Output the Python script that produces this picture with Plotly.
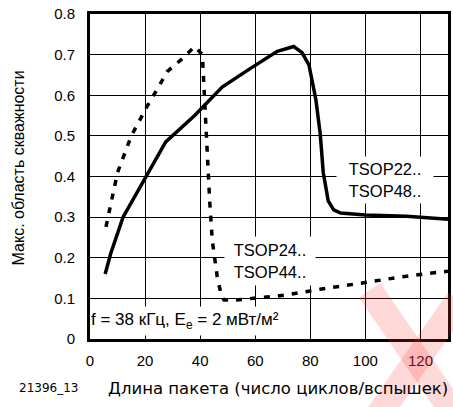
import plotly.graph_objects as go

# Pulse length (cycles/bursts) vs. maximum envelope duty cycle
solid_x = [5.5, 7.5, 12, 20.5, 27.5, 38, 48, 58, 68, 74, 77, 79.5, 82, 83.6, 84.7, 86.5, 88.5, 91, 100, 115, 130]
solid_y = [0.16, 0.21, 0.30, 0.40, 0.485, 0.55, 0.62, 0.665, 0.708, 0.72, 0.705, 0.675, 0.59, 0.505, 0.41, 0.34, 0.318, 0.31, 0.305, 0.302, 0.295]

dash_x = [5.8, 8.7, 10, 15, 18, 21, 24.6, 28, 33, 38, 40.8, 41.4, 42.2, 43, 43.5, 44.4, 46.2, 47.8, 48.7, 53, 59.5, 71, 84, 94.8, 101, 113, 126, 130]
dash_y = [0.276, 0.367, 0.41, 0.50, 0.54, 0.576, 0.617, 0.658, 0.687, 0.72, 0.70, 0.613, 0.52, 0.38, 0.335, 0.243, 0.153, 0.104, 0.096, 0.096, 0.101, 0.108, 0.123, 0.133, 0.14, 0.153, 0.163, 0.167]

x_ticks = [0, 20, 40, 60, 80, 100, 120]
y_ticks = [0, 0.1, 0.2, 0.3, 0.4, 0.5, 0.6, 0.7, 0.8]

FONT = "Liberation Sans, Arial, sans-serif"
WIDE = "DejaVu Sans, sans-serif"

fig = go.Figure()
fig.add_trace(go.Scatter(x=solid_x, y=solid_y, mode="lines",
                         line=dict(color="black", width=3.5), showlegend=False))
fig.add_trace(go.Scatter(x=dash_x, y=dash_y, mode="lines",
                         line=dict(color="black", width=3.5, dash="6px,8px"), showlegend=False))

axis_common = dict(showline=True, mirror=True, linewidth=3, linecolor="black",
                   showgrid=True, gridcolor="black", gridwidth=1, zeroline=False,
                   ticks="outside", tickcolor="rgba(0,0,0,0)",
                   tickfont=dict(family=FONT, size=15, color="black"))

fig.update_xaxes(range=[0, 130], tickvals=x_ticks, ticklen=6, **axis_common)
fig.update_yaxes(range=[0, 0.8], tickvals=y_ticks, ticklen=9, **axis_common)

annotations = [
    dict(x=107, y=0.392, xref="x", yref="y", text="TSOP22..<br>TSOP48..",
         showarrow=False, bgcolor="white", width=96, height=46, borderpad=0,
         font=dict(family=FONT, size=16.5, color="black")),
    dict(x=65.5, y=0.192, xref="x", yref="y", text="TSOP24..<br>TSOP44..",
         showarrow=False, bgcolor="white", width=90, height=48, borderpad=0,
         font=dict(family=FONT, size=16.5, color="black")),
    dict(x=0.012, y=0.044, xref="x", yref="y", xanchor="left", yanchor="middle",
         text="f = 38 кГц, E<sub>e</sub> = 2 мВт/м²", align="left",
         showarrow=False, bgcolor="white", width=196, height=28, borderpad=0,
         font=dict(family=FONT, size=17, color="black")),
    dict(x=0.526, y=-0.151, xref="paper", yref="paper", xanchor="center", yanchor="middle",
         text="Длина пакета (число циклов/вспышек)", showarrow=False,
         font=dict(family=WIDE, size=16.5, color="black")),
    dict(x=-0.116, y=-0.151, xref="paper", yref="paper", xanchor="center", yanchor="middle",
         text="21396_13", showarrow=False,
         font=dict(family=WIDE, size=12, color="black")),
    dict(x=-0.2, y=0.526, xref="paper", yref="paper", xanchor="center", yanchor="middle",
         textangle=-90, text="Макс. область скважности", showarrow=False,
         font=dict(family=FONT, size=16, color="black")),
]

# Light red cross mark in the lower right corner
cross = [
    dict(type="line", xref="paper", yref="paper", x0=0.781, y0=0.15, x1=1.03, y1=-0.25),
    dict(type="line", xref="paper", yref="paper", x0=1.03, y0=0.12, x1=0.77, y1=-0.29),
]
shapes = [dict(s, line=dict(color="rgba(255,60,60,0.2)", width=26), layer="above") for s in cross]

fig.update_layout(
    width=453, height=407,
    margin=dict(l=90, r=2, t=14, b=68),
    paper_bgcolor="white", plot_bgcolor="white",
    annotations=annotations, shapes=shapes,
    font=dict(family=FONT, color="black"),
)

fig.write_html("out.html")
